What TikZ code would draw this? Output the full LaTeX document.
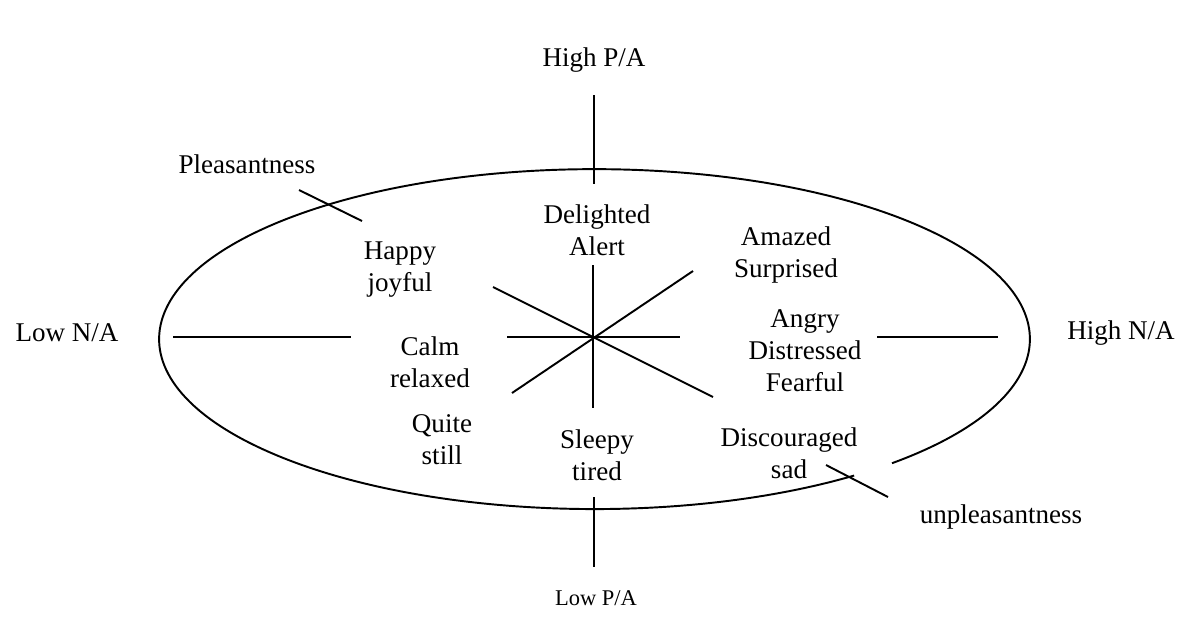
\documentclass[tikz,border=0pt]{standalone}
\usepackage{fontspec}
\setmainfont{Liberation Serif}
\tikzset{
  lbl/.style={align=center,inner sep=0pt,font=\fontsize{15.4}{18.2}\selectfont},
  small lbl/.style={lbl,font=\fontsize{12.8}{15}\selectfont},
  axis/.style={line width=1.1pt}
}

\begin{document}
\begin{tikzpicture}[x=.02cm,y=-.02cm]
\useasboundingbox (0,0) rectangle (1200,627);
\coordinate (o) at (593,337);
% ellipse, open near the lower right
\draw[axis] (892,463.2) arc[start angle=-46.9,end angle=306.6,x radius=8.71cm,y radius=3.4cm];
% axes
\draw[axis] (594,95)--(594,184);
\draw[axis] (594,497)--(594,567);
\draw[axis] (173,337)--(351,337);
\draw[axis] (877,337)--(998,337);
\draw[axis] (299,190)--(362,221);
\draw[axis] (826,465)--(888,497);
% star in the middle
\draw[axis] (593,265)--(593,408);
\draw[axis] (507,337)--(680,337);
\draw[axis] (493,287)--(713,397);
\draw[axis] (512,393)--(693,271);
% labels
\node[lbl] (hpa) at (594,60) {High P/A};
\node[small lbl] (lpa) at (596,598) {Low P/A};
\node[lbl] (lna) at (67,333) {Low N/A};
\node[lbl] (hna) at (1121,333) {High N/A};
\node[lbl] (pls) at (247,164) {Pleasantness};
\node[lbl] (unp) at (1001,517) {unpleasantness};
\node[lbl] (dlt) at (597,230) {Delighted\\Alert};
\node[lbl] (hap) at (400,270) {Happy\\joyful};
\node[lbl] (amz) at (786,255) {Amazed\\Surprised};
\node[lbl] (clm) at (430,362) {Calm\\relaxed};
\node[lbl] (ang) at (805,351) {Angry\\Distressed\\Fearful};
\node[lbl] (qui) at (442,440) {Quite\\still};
\node[lbl] (slp) at (597,455) {Sleepy\\tired};
\node[lbl] (dis) at (789,453) {Discouraged\\sad};
\end{tikzpicture}
\end{document}
